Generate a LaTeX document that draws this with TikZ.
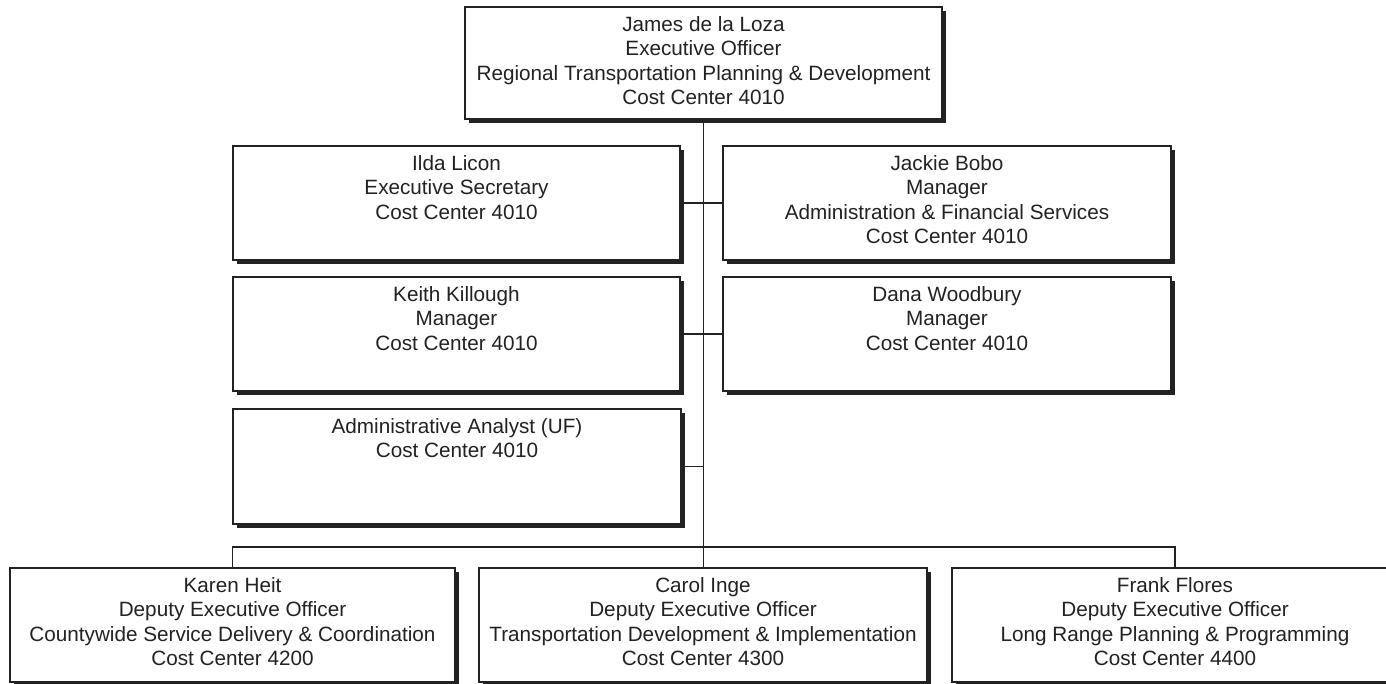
\documentclass[tikz,border=0pt]{standalone}
\usepackage{fontspec}
\setmainfont{Liberation Sans}
\usetikzlibrary{shadows}
\definecolor{ink}{HTML}{222222}
\tikzset{
  box/.style={draw=ink, line width=1.2pt, fill=white, inner sep=0pt,
    general shadow={fill=ink, shadow xshift=3.5pt, shadow yshift=-3.5pt}},
  txt/.style={anchor=north, inner sep=0pt, align=center, text=ink,
    font=\fontsize{20.7}{24.3}\selectfont, yshift=-7pt},
  conn/.style={draw=ink, line width=1.5pt}
}
\newcommand{\st}{\rule{0pt}{18pt}}
\begin{document}
\begin{tikzpicture}[x=1pt,y=-1pt]
\useasboundingbox (0,0) rectangle (1386,683);
% boxes
\node[box, minimum width=477pt, minimum height=112pt] (top) at (703.5,63) {};
\node[box, minimum width=447pt, minimum height=114pt] (ilda) at (456.5,203) {};
\node[box, minimum width=448pt, minimum height=114pt] (jackie) at (947,203) {};
\node[box, minimum width=447pt, minimum height=114pt] (keith) at (456.5,334) {};
\node[box, minimum width=448pt, minimum height=114pt] (dana) at (947,334) {};
\node[box, minimum width=448pt, minimum height=115pt] (analyst) at (457,466.5) {};
\node[box, minimum width=445pt, minimum height=114pt] (karen) at (232.5,625) {};
\node[box, minimum width=448pt, minimum height=114pt] (carol) at (703,625) {};
\node[box, minimum width=446pt, minimum height=114pt] (frank) at (1175,625) {};
% texts
\node[txt] (ttop) at (top.north) {\st James de la Loza\\Executive Officer\\Regional Transportation Planning \& Development\\Cost Center 4010};
\node[txt] (tilda) at (ilda.north) {\st Ilda Licon\\Executive Secretary\\Cost Center 4010};
\node[txt] (tjackie) at (jackie.north) {\st Jackie Bobo\\Manager\\Administration \& Financial Services\\Cost Center 4010};
\node[txt] (tkeith) at (keith.north) {\st Keith Killough\\Manager\\Cost Center 4010};
\node[txt] (tdana) at (dana.north) {\st Dana Woodbury\\Manager\\Cost Center 4010};
\node[txt] (tanalyst) at (analyst.north) {\st Administrative Analyst (UF)\\Cost Center 4010};
\node[txt] (tkaren) at (karen.north) {\st Karen Heit\\Deputy Executive Officer\\Countywide Service Delivery \& Coordination\\Cost Center 4200};
\node[txt] (tcarol) at (carol.north) {\st Carol Inge\\Deputy Executive Officer\\Transportation Development \& Implementation\\Cost Center 4300};
\node[txt] (tfrank) at (frank.north) {\st Frank Flores\\Deputy Executive Officer\\Long Range Planning \& Programming\\Cost Center 4400};
% connectors
\coordinate (bus) at (703.5,547);
\draw[conn] (top.south) -- (bus);
\draw[conn] (ilda.east) -- (jackie.west);
\draw[conn] (keith.east) -- (dana.west);
\draw[conn] (analyst.east) -- (analyst.east -| top.south);
\draw[conn] (bus) -- (bus |- carol.north);
\draw[conn] (karen.north) |- (bus) -| (frank.north);
\end{tikzpicture}
\end{document}
